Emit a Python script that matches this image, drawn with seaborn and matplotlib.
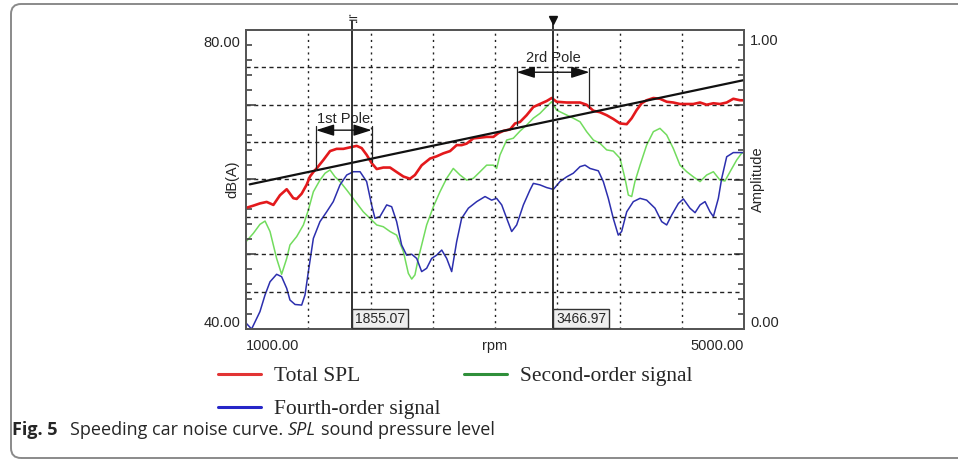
import pandas as pd
import matplotlib
matplotlib.use('Agg')
import matplotlib.pyplot as plt
import seaborn as sns
from matplotlib.lines import Line2D
from matplotlib.patches import FancyBboxPatch
from matplotlib.transforms import IdentityTransform

# Total SPL, dB(A) against rpm
red_rpm = [1000, 1059, 1112, 1166, 1220, 1273, 1327, 1380, 1407, 1447, 1487, 1514, 1541, 1568,
           1621, 1675, 1728, 1782, 1835, 1889, 1929, 1969, 2009, 2050, 2103, 2157, 2210, 2264,
           2317, 2357, 2411, 2478, 2531, 2585, 2639, 2692, 2732, 2772, 2826, 2880, 2933, 2987,
           3027, 3067, 3121, 3161, 3201, 3254, 3308, 3361, 3415, 3455, 3495, 3576, 3629, 3683,
           3736, 3790, 3843, 3897, 3950, 4004, 4058, 4098, 4138, 4178, 4218, 4272, 4325, 4379,
           4432, 4486, 4540, 4593, 4647, 4700, 4754, 4807, 4861, 4914, 4968, 5000]
red_db = [56.2, 56.5, 56.8, 57.0, 56.6, 57.9, 58.7, 57.5, 57.4, 58.1, 59.3, 60.4, 61.0, 61.5,
          62.6, 63.8, 64.1, 64.1, 64.3, 64.5, 64.2, 63.3, 62.2, 61.4, 61.6, 61.6, 61.0, 60.4,
          60.1, 60.6, 61.9, 62.8, 63.1, 63.5, 63.8, 64.6, 64.6, 64.8, 65.5, 65.6, 65.7, 65.7,
          66.2, 66.5, 66.7, 67.5, 67.7, 68.6, 69.7, 70.1, 70.5, 70.9, 70.4, 70.3, 70.3, 70.3,
          70.0, 69.2, 69.0, 68.6, 68.1, 67.5, 67.4, 68.2, 69.3, 70.2, 70.6, 70.9, 70.8, 70.4,
          70.3, 70.1, 70.1, 70.1, 70.3, 70.0, 70.2, 70.1, 70.3, 70.8, 70.6, 70.6]

# Second-order signal, amplitude
green_rpm = [1000, 1059, 1112, 1153, 1193, 1246, 1286, 1327, 1353, 1407, 1461, 1501, 1541, 1594,
             1635, 1675, 1715, 1755, 1809, 1849, 1889, 1942, 1996, 2050, 2103, 2157, 2210, 2264,
             2304, 2331, 2357, 2384, 2411, 2451, 2505, 2558, 2612, 2665, 2719, 2772, 2826, 2880,
             2933, 2987, 3013, 3040, 3094, 3147, 3201, 3254, 3308, 3361, 3415, 3455, 3495, 3549,
             3629, 3683, 3736, 3790, 3843, 3897, 3950, 4004, 4044, 4071, 4098, 4124, 4165, 4218,
             4272, 4325, 4379, 4432, 4486, 4540, 4593, 4647, 4700, 4754, 4807, 4847, 4888, 4941,
             4981, 5000]
green_amp = [0.292, 0.320, 0.350, 0.361, 0.326, 0.236, 0.183, 0.236, 0.281, 0.309,
             0.348, 0.398, 0.459, 0.498, 0.521, 0.532, 0.509, 0.493, 0.465, 0.443,
             0.421, 0.392, 0.370, 0.348, 0.342, 0.326, 0.314, 0.259, 0.186, 0.167,
             0.181, 0.236, 0.281, 0.348, 0.409, 0.459, 0.504, 0.537, 0.515, 0.498,
             0.504, 0.526, 0.548, 0.548, 0.537, 0.582, 0.632, 0.638, 0.662, 0.682,
             0.705, 0.721, 0.744, 0.760, 0.732, 0.721, 0.705, 0.693, 0.660, 0.632,
             0.621, 0.599, 0.595, 0.571, 0.504, 0.448, 0.443, 0.493, 0.548, 0.615,
             0.660, 0.671, 0.649, 0.604, 0.548, 0.526, 0.509, 0.493, 0.515, 0.526,
             0.498, 0.495, 0.526, 0.565, 0.588, 0.590]

# Fourth-order signal, amplitude
blue_rpm = [1000, 1045, 1112, 1153, 1193, 1246, 1286, 1327, 1353, 1394, 1447, 1474, 1501, 1541,
            1594, 1648, 1701, 1755, 1809, 1862, 1916, 1969, 2009, 2036, 2076, 2130, 2170, 2210,
            2250, 2290, 2331, 2371, 2411, 2451, 2491, 2531, 2572, 2612, 2652, 2692, 2732, 2786,
            2853, 2920, 2973, 3013, 3054, 3094, 3134, 3174, 3228, 3281, 3308, 3361, 3415, 3469,
            3522, 3576, 3629, 3683, 3723, 3763, 3830, 3870, 3910, 3950, 3990, 4017, 4058, 4111,
            4165, 4218, 4285, 4339, 4379, 4419, 4473, 4513, 4566, 4607, 4647, 4687, 4727, 4754,
            4794, 4821, 4861, 4914, 4968, 5000]
blue_amp = [0.020, 0.000, 0.058, 0.114, 0.158, 0.183, 0.175, 0.136, 0.097, 0.082, 0.080, 0.114,
            0.192, 0.303, 0.359, 0.392, 0.426, 0.482, 0.515, 0.526, 0.526, 0.493, 0.415, 0.370,
            0.376, 0.415, 0.409, 0.359, 0.281, 0.247, 0.250, 0.236, 0.192, 0.203, 0.236, 0.247,
            0.264, 0.236, 0.192, 0.292, 0.370, 0.404, 0.426, 0.443, 0.431, 0.437, 0.415, 0.370,
            0.326, 0.348, 0.415, 0.465, 0.487, 0.482, 0.473, 0.467, 0.493, 0.509, 0.521, 0.543,
            0.548, 0.537, 0.529, 0.493, 0.437, 0.370, 0.314, 0.326, 0.392, 0.426, 0.437, 0.431,
            0.404, 0.359, 0.348, 0.381, 0.420, 0.435, 0.404, 0.389, 0.415, 0.426, 0.392, 0.376,
            0.437, 0.504, 0.576, 0.590, 0.590, 0.590]

trend_rpm = [1030, 5000]
trend_db = [59.35, 73.3]

cursor_rpm = [1855.07, 3466.97]

pole_labels = ['1st Pole', '2rd Pole']
pole_left = [1562, 3174]
pole_right = [2009, 3758]
pole_arrow_db = [66.6, 74.35]
pole_top_db = [67.1, 74.9]
pole_left_end = [61.3, 67.3]
pole_right_end = [62.4, 69.5]
pole_text_db = [68.1, 76.2]

grid_rpm = [1500, 2000, 2500, 3000, 3500, 4000, 4500]
grid_db = [45, 50, 55, 60, 65, 70, 75]

legend_labels = ['Total SPL', 'Fourth-order signal', 'Second-order signal']
legend_colors = ['#e23434', '#2626c8', '#2f8f3a']

red_c = '#e3191c'
green_c = '#72dc5e'
blue_c = '#2c2fae'

sns.set_style('white')
plt.rcParams['font.family'] = ['Liberation Sans', 'DejaVu Sans']

fig = plt.figure(figsize=(9.58, 4.61), dpi=100)
ax = fig.add_axes([246 / 958, 132 / 461, 498 / 958, 299 / 461])
ax2 = ax.twinx()
ax.set_zorder(ax2.get_zorder() + 1)
ax.patch.set_visible(False)

df_red = pd.DataFrame({'rpm': red_rpm, 'dB': red_db})
df_green = pd.DataFrame({'rpm': green_rpm, 'amp': green_amp})
df_blue = pd.DataFrame({'rpm': blue_rpm, 'amp': blue_amp})

sns.lineplot(data=df_green, x='rpm', y='amp', color=green_c, lw=1.1, ax=ax2, estimator=None)
sns.lineplot(data=df_blue, x='rpm', y='amp', color=blue_c, lw=1.1, ax=ax2, estimator=None)
sns.lineplot(data=df_red, x='rpm', y='dB', color=red_c, lw=1.9, ax=ax, estimator=None)
sns.lineplot(x=trend_rpm, y=trend_db, color='#111111', lw=1.6, ax=ax)

ax.set_xlim(1000, 5000)
ax.set_ylim(40, 80)
ax2.set_ylim(0, 1)
for a in (ax, ax2):
    a.set_xlabel('')
    a.set_ylabel('')
    for s in a.spines.values():
        s.set_color('#555555')
        s.set_linewidth(1.3)

# dotted grid
for g in grid_rpm:
    ax.axvline(g, color='#222222', lw=1.0, ls=(0, (1.5, 3)), zorder=0.5)
for g in grid_db:
    ax.axhline(g, color='#222222', lw=1.0, ls=(0, (3, 2.5)), zorder=0.5)

# ticks, all pointing inwards, no numbers
ax.set_xticks([2000, 3000, 4000])
ax.set_xticks([r for r in range(1200, 5000, 200) if r % 1000], minor=True)
ax.set_yticks([50, 60, 70])
ax.set_yticks([d for d in range(42, 80, 2) if d % 10], minor=True)
ax.tick_params(which='both', direction='in', colors='#444444', width=1.2,
               labelleft=False, labelbottom=False, top=False, right=False)
ax.tick_params(which='major', length=7)
ax.tick_params(which='minor', length=4)
ax2.set_yticks([0.25, 0.5, 0.75])
ax2.set_yticks([v / 20 for v in range(1, 20) if v % 5], minor=True)
ax2.tick_params(which='both', direction='in', colors='#444444', width=1.2,
                labelright=False, bottom=False, top=False)
ax2.tick_params(which='major', length=7)
ax2.tick_params(which='minor', length=4)

# end labels of the axes
tk = dict(fontsize=10.5, transform=ax.transAxes, va='center')
ax.text(-0.012, 0.957, '80.00', ha='right', **tk)
ax.text(-0.012, 0.020, '40.00', ha='right', **tk)
ax.text(1.012, 0.963, '1.00', ha='left', **tk)
ax.text(1.012, 0.020, '0.00', ha='left', **tk)
ax.text(0.0, -0.057, '1000.00', ha='left', **tk)
ax.text(0.5, -0.057, 'rpm', ha='center', **tk)
ax.text(1.0, -0.057, '5000.00', ha='right', **tk)
ax.text(-0.027, 0.5, 'dB(A)', ha='center', rotation=90, **tk)
ax.text(1.028, 0.5, 'Amplitude', ha='center', rotation=90, **tk)

# cursors
for i, c in enumerate(cursor_rpm):
    ax.plot([c, c], [40, 81.2], color='#222222', lw=1.3, clip_on=False)
    ax.annotate(f'{c:.2f}', xy=(c, 40), xytext=(2, 2.5), textcoords='offset points',
                ha='left', va='bottom', fontsize=10,
                bbox=dict(boxstyle='square,pad=0.2', fc='#eeeeee', ec='#333333', lw=1))
ax.plot(cursor_rpm[1], 81.4, marker='v', ms=6, color='#111111', clip_on=False)
ax.text(cursor_rpm[0], 81.4, '\u2252', ha='center', va='center', fontsize=9,
        family='DejaVu Sans', clip_on=False)

# pole brackets
for i in range(2):
    ax.plot([pole_left[i], pole_left[i]], [pole_top_db[i], pole_left_end[i]], color='#222222', lw=0.9)
    ax.plot([pole_right[i], pole_right[i]], [pole_top_db[i], pole_right_end[i]], color='#222222', lw=0.9)
    ax.annotate('', xy=(pole_left[i], pole_arrow_db[i]), xytext=(pole_right[i], pole_arrow_db[i]),
                arrowprops=dict(arrowstyle='<|-|>,head_length=1.1,head_width=0.35', color='#111111',
                                lw=1, mutation_scale=10, shrinkA=0, shrinkB=0))
    ax.text((pole_left[i] + pole_right[i]) / 2, pole_text_db[i], pole_labels[i],
            ha='center', va='center', fontsize=10.5)

# legend below the plot
handles = [Line2D([], [], color=c, lw=2.2) for c in legend_colors]
fig.legend(handles, legend_labels, ncol=2, loc='upper left',
           bbox_to_anchor=(218 / 958, (461 - 366) / 461), frameon=False,
           prop={'family': 'Liberation Serif', 'size': 15.5},
           handlelength=2.0, handletextpad=0.6, columnspacing=1.1,
           labelspacing=0.6, borderpad=0, borderaxespad=0)

# caption
renderer = fig.canvas.get_renderer()
caption_parts = [('Fig. 5', 'bold', 'normal', 12),
                 ('Speeding car noise curve.', 'normal', 'normal', 5),
                 ('SPL', 'normal', 'italic', 5),
                 ('sound pressure level', 'normal', 'normal', 0)]
x = 12
for txt, weight, style, gap in caption_parts:
    t = fig.text(x / 958, 26 / 461, txt, fontsize=13, fontweight=weight, fontstyle=style,
                 family='Open Sans', va='baseline', ha='left')
    bb = t.get_window_extent(renderer)
    x = bb.x1 + gap

# rounded frame round the figure
frame = FancyBboxPatch((11, 3), 990, 454, boxstyle='round,pad=0,rounding_size=10',
                       transform=IdentityTransform(), fc='none', ec='#8a8a8a', lw=1.4)
fig.add_artist(frame)

plt.savefig('out.png', dpi=100)
plt.close()
